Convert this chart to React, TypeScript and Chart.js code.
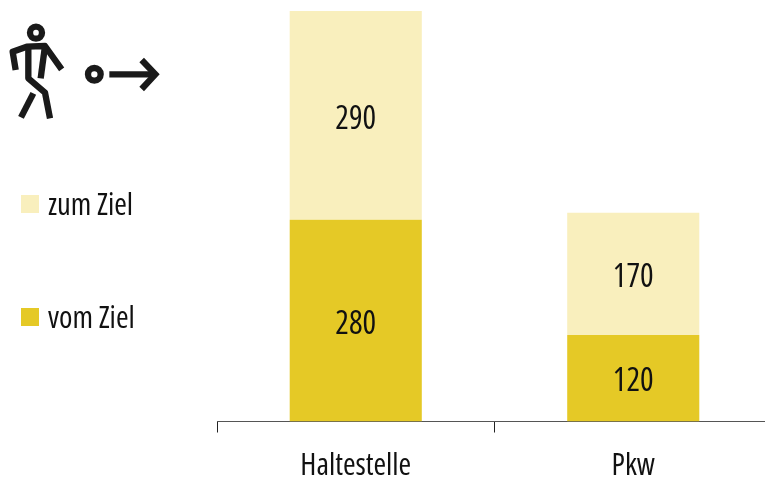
import React, { useEffect, useRef } from "react";
import { Chart, registerables } from "chart.js";

Chart.register(...registerables);

const categories = ["Haltestelle", "Pkw"];
const vomZiel = [280, 120];
const zumZiel = [290, 170];
const legendLabels = ["zum Ziel", "vom Ziel"];
const DARK = "#E5C926";
const LIGHT = "#F9EFBD";
const FONT = '"Open Sans", sans-serif';

const overlayPlugin = {
  id: "overlay",
  afterDatasetsDraw(chart: any) {
    const { ctx } = chart;
    ctx.save();
    ctx.fillStyle = "#111";
    ctx.font = `condensed 32px ${FONT}`;
    ctx.textAlign = "center";
    ctx.textBaseline = "middle";
    chart.data.datasets.forEach((ds: any, i: number) => {
      chart.getDatasetMeta(i).data.forEach((bar: any, j: number) => {
        const mid = (bar.y + bar.base) / 2;
        ctx.fillText(String(ds.data[j]), bar.x, mid + 4);
      });
    });
    const legend = [
      { label: legendLabels[0], color: LIGHT, y: 195 },
      { label: legendLabels[1], color: DARK, y: 308 },
    ];
    ctx.textAlign = "left";
    ctx.textBaseline = "alphabetic";
    ctx.font = `condensed 30.5px ${FONT}`;
    legend.forEach((l) => {
      ctx.fillStyle = l.color;
      ctx.fillRect(21, l.y, 18, 18);
      ctx.fillStyle = "#111";
      ctx.fillText(l.label, 48, l.y + 20);
    });
    ctx.restore();
  },
};

export default function App() {
  const ref = useRef<HTMLCanvasElement>(null);
  useEffect(() => {
    document.body.style.margin = "0";
    const chart = new Chart(ref.current!, {
      type: "bar",
      data: {
        labels: categories,
        datasets: [
          { label: legendLabels[1], data: vomZiel, backgroundColor: DARK },
          { label: legendLabels[0], data: zumZiel, backgroundColor: LIGHT },
        ],
      },
      options: {
        animation: false,
        responsive: false,
        layout: { padding: { left: 217, top: 11, right: 0, bottom: 0 } },
        plugins: { legend: { display: false }, tooltip: { enabled: false } },
        scales: {
          x: {
            stacked: true,
            afterFit(scale: any) {
              scale.height = 58.5;
            },
            border: { color: "#555", width: 1 },
            grid: { drawOnChartArea: false, drawTicks: true, tickLength: 11, color: "#222" },
            ticks: {
              color: "#111",
              padding: 16,
              font: { family: FONT, size: 30.5, weight: "condensed" },
              maxRotation: 0,
              autoSkip: false,
            },
          },
          y: { stacked: true, display: false, min: 0, max: 570 },
        },
        datasets: { bar: { categoryPercentage: 1, barPercentage: 0.476 } },
      } as any,
      plugins: [overlayPlugin],
    });
    return () => chart.destroy();
  }, []);

  return (
    <div style={{ position: "relative", width: 765, height: 480, overflow: "hidden" }}>
      <canvas ref={ref} width={772} height={480} style={{ display: "block", width: 772, height: 480 }} />
      <svg
        width={180}
        height={120}
        viewBox="0 0 540 360"
        style={{ position: "absolute", left: 0, top: 10 }}
        fill="none"
        stroke="#1a1a1a"
        strokeWidth={19}
        strokeLinejoin="round"
      >
        <circle cx={108} cy={68} r={18} />
        <polyline points="47,180 38,125 80,110 135,108 185,178" />
        <polyline points="85,110 85,205 135,248 150,325" />
        <line x1={135} y1={108} x2={122} y2={205} />
        <line x1={100} y1={250} x2={63} y2={322} />
        <circle cx={283} cy={193} r={19} />
        <line x1={328} y1={193} x2={465} y2={193} />
        <polyline points="425,150 466,193 425,237" strokeLinejoin="miter" />
      </svg>
    </div>
  );
}
